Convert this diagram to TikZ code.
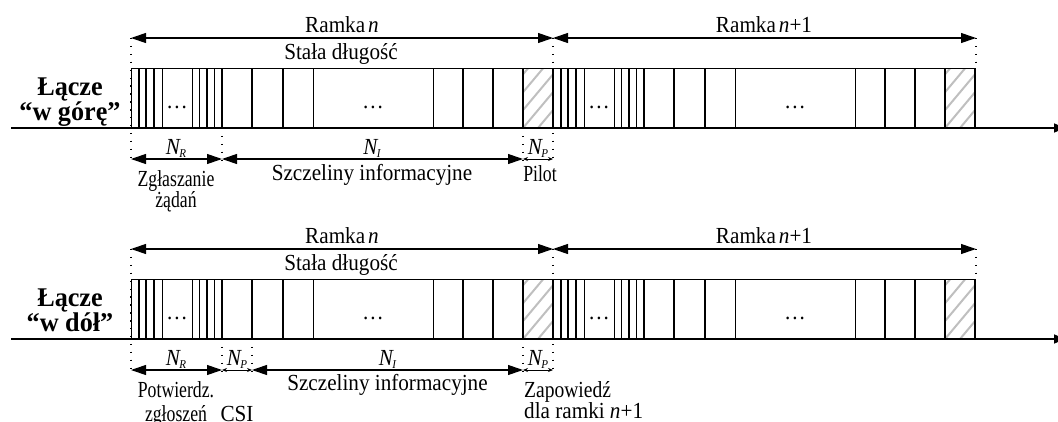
\documentclass[tikz,border=0pt]{standalone}
\usepackage{fontspec}
\setmainfont{Liberation Serif}[FakeStretch=0.92]
\newfontfamily\boldlbl{Liberation Serif}[FakeStretch=0.97]
\newfontfamily\narrowlbl{Liberation Serif}[FakeStretch=0.77]
\newfontfamily\midlbl{Liberation Serif}[FakeStretch=0.85]
\usetikzlibrary{arrows.meta}
\newcommand\Nsub[1]{{\itshape N}\kern-0.5pt\raisebox{-3.5pt}{\fontsize{12}{12}\selectfont\itshape #1}}
\begin{document}
\begin{tikzpicture}[x=1pt,y=-1pt,
  thinl/.style={line width=0.9pt},
  thickl/.style={line width=1.9pt},
  axisl/.style={line width=1.6pt,-{Triangle[length=11pt,width=9pt]}},
  dimarrow/.style={line width=1.1pt,{Triangle[length=15pt,width=10pt]}-{Triangle[length=15pt,width=10pt]}},
  smallarrow/.style={line width=0.8pt,{Stealth[length=5pt,width=4pt]}-{Stealth[length=5pt,width=4pt]}},
  dotl/.style={line width=1.4pt,dash pattern=on 1.4pt off 6.5pt},
  hatchl/.style={line width=2pt,color=black!25},
  lbl/.style={font=\fontsize{23}{24}\selectfont, inner sep=0pt, anchor=base},
  nlbl/.style={font=\narrowlbl\fontsize{23}{24}\selectfont, inner sep=0pt, anchor=base},
  mlbl/.style={font=\midlbl\fontsize{23}{24}\selectfont, inner sep=0pt, anchor=base},
  blbl/.style={font=\boldlbl\bfseries\fontsize{27}{28}\selectfont, inner sep=0pt, anchor=base},
]
\useasboundingbox (0,0) rectangle (1058,421);
\foreach \o/\r in {0/a,211/b} {
  % axis
  \coordinate (ax0\r) at (11,128+\o);
  \coordinate (ax1\r) at (1065,128+\o);
  % slots
  \foreach \f in {131,553} {
    \begin{scope}
      \clip (\f+392,68+\o) rectangle (\f+422,128+\o);
      \foreach \k in {-60,-45,...,30}
        \draw[hatchl] (\f+392+\k,128+\o) -- ++(52,-62);
    \end{scope}
    \foreach \d in {0,31,61,182,302}
      \draw[thinl] (\f+\d,68+\o) -- (\f+\d,128+\o);
    \foreach \d in {7.7,15.4,23,68.5,76,83.5,91,121,152,332,362,392,422}
      \draw[thickl] (\f+\d,68+\o) -- (\f+\d,128+\o);
    \node[lbl] (dr\r\f) at (\f+46,108+\o) {.\kern2pt.\kern2pt.};
    \node[lbl] (di\r\f) at (\f+242,108+\o) {.\kern2pt.\kern2pt.};
  }
  \draw[thinl] (131,68+\o) -- (976,68+\o);
  \draw[axisl] (ax0\r) -- (ax1\r);
  % frame arrows
  \coordinate (fs\r) at (131,38+\o);
  \coordinate (fm\r) at (553,38+\o);
  \coordinate (fe\r) at (976,38+\o);
  \draw[dimarrow] (fs\r) -- (fm\r);
  \draw[dimarrow] (fm\r) -- (fe\r);
  \node[lbl] (rn\r) at (342,32+\o) {Ramka\kern3pt{\itshape n}};
  \node[lbl] (rm\r) at (764,32+\o) {Ramka\kern3pt{\itshape n}+1};
  \node[lbl] (sd\r) at (341,59+\o) {Stała długość};
  % dotted guides
  \draw[dotl] (131,38+\o) -- (131,161+\o);
  \draw[dotl] (553,38+\o) -- (553,161+\o);
  \draw[dotl] (976,38+\o) -- (976,68+\o);
  \draw[dotl] (222,128+\o) -- (222,161+\o);
  \draw[dotl] (523,128+\o) -- (523,161+\o);
  % dimension coordinates
  \coordinate (d0\r) at (131,159+\o);
  \coordinate (d1\r) at (222,159+\o);
  \coordinate (d2\r) at (252,159+\o);
  \coordinate (d3\r) at (523,159+\o);
  \coordinate (d4\r) at (553,159+\o);
  \draw[dimarrow] (d0\r) -- (d1\r);
  \draw[smallarrow] (d3\r) -- (d4\r);
  \node[lbl] (nr\r) at (176,154+\o) {\Nsub{R}};
  \node[lbl] (np\r) at (538,154+\o) {\Nsub{P}};
}
% upper row specifics
\draw[dimarrow] (d1a) -- (d3a);
\node[lbl] (nia) at (372,154) {\Nsub{I}};
\node[nlbl] (zg1) at (176,186) {Zgłaszanie};
\node[nlbl] (zg2) at (176,207) {żądań};
\node[lbl] (sza) at (372,180) {Szczeliny informacyjne};
\node[nlbl] (pil) at (540,181) {Pilot};
\node[blbl] (la1) at (70,95) {Łącze};
\node[blbl] (la2) at (70,120) {“w górę”};
% lower row specifics
\draw[dotl] (252,339) -- (252,372);
\draw[smallarrow] (d1b) -- (d2b);
\draw[dimarrow] (d2b) -- (d3b);
\node[lbl] (ncb) at (237,365) {\Nsub{P}};
\node[lbl] (nib) at (387.5,365) {\Nsub{I}};
\node[nlbl] (po1) at (176,397) {Potwierdz.};
\node[nlbl] (po2) at (176,421) {zgłoszeń};
\node[lbl] (csi) at (237,421) {CSI};
\node[lbl] (szb) at (387.5,390) {Szczeliny informacyjne};
\node[mlbl,anchor=base west] (za1) at (524,397) {Zapowiedź};
\node[lbl,anchor=base west] (za2) at (524,418) {dla ramki {\itshape n}+1};
\node[blbl] (lb1) at (70,306) {Łącze};
\node[blbl] (lb2) at (70,331) {“w dół”};
\end{tikzpicture}
\end{document}
